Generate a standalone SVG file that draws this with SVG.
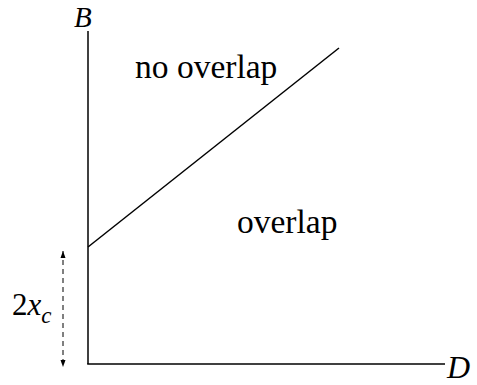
<svg xmlns="http://www.w3.org/2000/svg" width="477" height="385" viewBox="0 0 477 385">
<defs>
<style>
.ax{stroke:#000;stroke-width:1.5;fill:none}
.t{font-family:"Liberation Serif","Times New Roman",serif;fill:#000}
.lab{font-size:33.5px}
.i{font-style:italic}
.d{stroke:#000;stroke-width:1;fill:none;stroke-dasharray:5,4}
</style>
<marker id="ah" viewBox="0 0 8 8" refX="7" refY="4" markerWidth="8" markerHeight="8" markerUnits="userSpaceOnUse" orient="auto-start-reverse">
<path d="M0,1.5 L7,4 L0,6.5 Z" fill="#000"/>
</marker>
</defs>
<rect width="477" height="385" fill="#fff"/>
<g id="axes">
<line class="ax" x1="88" y1="31" x2="88" y2="364"/>
<line class="ax" x1="87.2" y1="364" x2="445" y2="364"/>
<text class="t i" x="74" y="26.5" style="font-size:29px">B</text>
<text class="t i" x="447" y="378" style="font-size:32px">D</text>
</g>
<g id="connectors">
<line class="ax" x1="88" y1="247" x2="339" y2="48"/>
<line class="d" x1="63" y1="251" x2="63" y2="367" marker-start="url(#ah)" marker-end="url(#ah)"/>
</g>
<g id="no-overlap"><text class="t lab" x="135" y="78">no overlap</text></g>
<g id="overlap"><text class="t lab" x="237" y="233">overlap</text></g>
<g id="label-2xc"><text class="t" x="12" y="315" style="font-size:31px">2<tspan class="i">x</tspan><tspan class="i" dy="8" style="font-size:23px">c</tspan></text></g>
</svg>
